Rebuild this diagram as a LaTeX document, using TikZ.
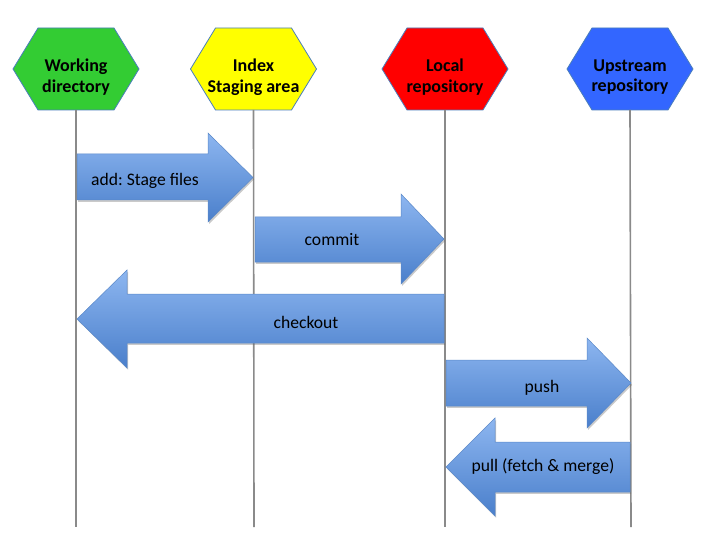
\documentclass[tikz,border=0pt]{standalone}
\usepackage{fontspec}
\setmainfont{Carlito}
\frenchspacing
\usetikzlibrary{shadows}
\definecolor{hexline}{HTML}{4A7EBB}
\definecolor{cgreen}{HTML}{33CC33}
\definecolor{cyellow}{HTML}{FFFF00}
\definecolor{cred}{HTML}{FF0000}
\definecolor{cblue}{HTML}{3366FF}
\definecolor{artop}{HTML}{8DB6F0}
\definecolor{arbot}{HTML}{4A7FCB}
\definecolor{arline}{HTML}{5A88C8}
\definecolor{lifegray}{HTML}{8A8A8A}
\tikzset{
  hexbox/.style={draw=hexline, line width=0.8pt},
  hexlabel/.style={font=\fontsize{18}{20.5}\selectfont\bfseries, align=center, text=black},
  lifeline/.style={draw=lifegray, line width=1.6pt},
  flowarrow/.style={draw=arline, line width=0.5pt, top color=artop, bottom color=arbot,
    drop shadow={shadow xshift=1.2pt, shadow yshift=-1.8pt, opacity=0.35, fill=black!60}},
  flowlabel/.style={font=\fontsize{17.6}{20}\selectfont, text=black}
}
\newcommand\hexat[3]{% x, color, name
  \fill[#2] (#1-63,69) -- (#1-38,28) -- (#1+38,28) -- (#1+63,69) -- (#1+38,110) -- (#1-38,110) -- cycle;
  \draw[hexbox] (#1-63,69) -- (#1-38,28) -- (#1+38,28) -- (#1+63,69) -- (#1+38,110) -- (#1-38,110) -- cycle;
  \coordinate (#3) at (#1,110);
}
\begin{document}
\begin{tikzpicture}[x=1pt,y=-1pt]
\useasboundingbox (0,0) rectangle (720,540);
% hexagons
\hexat{76}{cgreen}{wd}
\hexat{253.5}{cyellow}{ix}
\hexat{445}{cred}{lr}
\hexat{630}{cblue}{ur}
\node[hexlabel] (wdl) at (76,77) {Working\\directory};
\node[hexlabel] (ixl) at (253.5,77) {Index\\Staging area};
\node[hexlabel] (lrl) at (445,77) {Local\\repository};
\node[hexlabel] (url) at (630,77) {Upstream\\repository};
% lifelines
\coordinate (wdb) at (76,527);
\coordinate (ixb) at (254,527);
\coordinate (lrb) at (445,527);
\coordinate (urb) at (631,527);
\draw[lifeline] (wd) -- (wdb);
\draw[lifeline] (ix) -- (ixb);
\draw[lifeline] (lr) -- (lrb);
\draw[lifeline] (ur) -- (urb);
% arrows
\path[flowarrow] (77,154) -- (208,154) -- (208,133) -- (253,177.5) -- (208,222) -- (208,200) -- (77,200) -- cycle;
\node[flowlabel] (add) at (145,181) {add: Stage files};
\path[flowarrow] (255,217) -- (401,217) -- (401,194) -- (444,239) -- (401,284) -- (401,262) -- (255,262) -- cycle;
\node[flowlabel] (commit) at (332,240) {commit};
\path[flowarrow] (444,294) -- (127,294) -- (127,270) -- (77,319) -- (127,368) -- (127,343) -- (444,343) -- cycle;
\node[flowlabel] (checkout) at (306,322) {checkout};
\path[flowarrow] (446,360) -- (587,360) -- (587,338) -- (631,383) -- (587,428) -- (587,406) -- (446,406) -- cycle;
\node[flowlabel] (push) at (542,388) {push};
\path[flowarrow] (630,442) -- (495,442) -- (495,418) -- (446,467) -- (495,516) -- (495,492) -- (630,492) -- cycle;
\node[flowlabel] (pull) at (543,467) {pull (fetch \& merge)};
\end{tikzpicture}
\end{document}
